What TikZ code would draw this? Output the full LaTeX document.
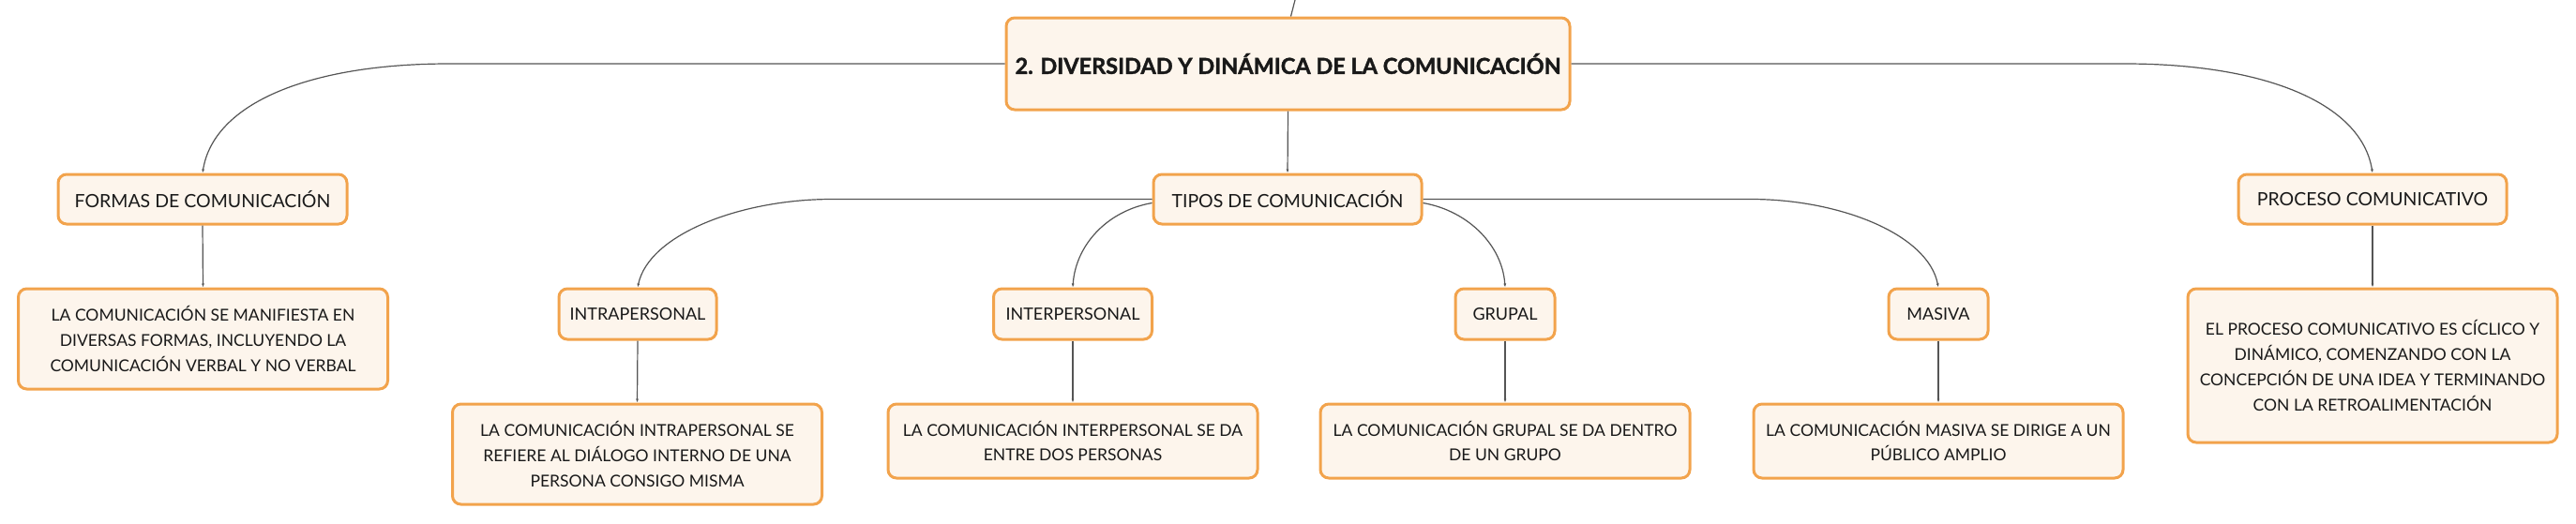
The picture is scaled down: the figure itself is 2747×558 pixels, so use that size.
\documentclass[tikz,border=0pt]{standalone}
\usepackage{fontspec}
\setmainfont{Lato}[BoldFeatures={FakeBold=1.6}]
\usetikzlibrary{arrows.meta,calc}
\definecolor{BoxLine}{HTML}{F2A34C}
\definecolor{BoxFill}{HTML}{FDF5EC}
\definecolor{BranchGray}{HTML}{555555}
\tikzset{%
	% Style of every box
	Box/.style={draw=BoxLine,fill=BoxFill,line width=3pt,rounded corners=9pt,
		inner sep=0,align=center,text=black!90},
	% Style of the central topic
	MainTopic/.style={Box,font=\fontsize{23.5}{28}\selectfont\bfseries},
	% Style of the first level topics
	Topic/.style={Box,font=\fontsize{19.5}{24}\selectfont,minimum height=53pt},
	% Style of the second level topics
	SubTopic/.style={Box,font=\fontsize{18}{22}\selectfont,minimum height=54pt},
	% Style of the explanation boxes
	Note/.style={Box,font=\fontsize{17.5}{26.7}\selectfont,minimum width=394pt},
	% Style of the branch
	Connection/.style={line width=1.2pt,draw=BranchGray,-{Latex[length=4pt,width=3pt]}},
}
\begin{document}
\begin{tikzpicture}[x=1pt,y=-1pt] % STYLES
\useasboundingbox (0,0) rectangle (2747,558);

%~~~~~~~~~~~~~~~~~~~~~~~~~~~~~~~~~~~~~~~~~~~~~~~~~~
% Set Nodes
%~~~~~~~~~~~~~~~~~~~~~~~~~~~~~~~~~~~~~~~~~~~~~~~~~~
\node[MainTopic,minimum width=601pt,minimum height=98pt] (Main) at (1373.5, 68) {2. DIVERSIDAD Y DINÁMICA DE LA COMUNICACIÓN};
\coordinate (Parent) at (1381, 0);

\node[Topic,minimum width=308pt] (Formas) at (216, 212.5) {FORMAS DE COMUNICACIÓN};
\node[Topic,minimum width=286pt] (Tipos) at (1373, 212.5) {TIPOS DE COMUNICACIÓN};
\node[Topic,minimum width=286pt] (Proceso) at (2530, 212.5) {PROCESO COMUNICATIVO};

\node[SubTopic,minimum width=168pt] (Intra) at (680, 335) {INTRAPERSONAL};
\node[SubTopic,minimum width=169pt] (Inter) at (1144, 335) {INTERPERSONAL};
\node[SubTopic,minimum width=106pt] (Grupal) at (1605, 335) {GRUPAL};
\node[SubTopic,minimum width=106pt] (Masiva) at (2067, 335) {MASIVA};

\node[Note,minimum height=107pt] (FormasNote) at (216.5, 361.5) {LA COMUNICACIÓN SE MANIFIESTA EN\\DIVERSAS FORMAS, INCLUYENDO LA\\COMUNICACIÓN VERBAL Y NO VERBAL};
\node[Note,minimum height=164pt] (ProcesoNote) at (2530, 390) {EL PROCESO COMUNICATIVO ES CÍCLICO Y\\DINÁMICO, COMENZANDO CON LA\\CONCEPCIÓN DE UNA IDEA Y TERMINANDO\\CON LA RETROALIMENTACIÓN};
\node[Note,minimum height=107pt] (IntraNote) at (679.5, 484.5) {LA COMUNICACIÓN INTRAPERSONAL SE\\REFIERE AL DIÁLOGO INTERNO DE UNA\\PERSONA CONSIGO MISMA};
\node[Note,minimum height=79pt] (InterNote) at (1144, 470.5) {LA COMUNICACIÓN INTERPERSONAL SE DA\\ENTRE DOS PERSONAS};
\node[Note,minimum height=79pt] (GrupalNote) at (1605, 470.5) {LA COMUNICACIÓN GRUPAL SE DA DENTRO\\DE UN GRUPO};
\node[Note,minimum height=79pt] (MasivaNote) at (2067, 470.5) {LA COMUNICACIÓN MASIVA SE DIRIGE A UN\\PÚBLICO AMPLIO};

%~~~~~~~~~~~~~~~~~~~~~~~~~~~~~~~~~~~~~~~~~~~~~~~~~~
% Set Branches
%~~~~~~~~~~~~~~~~~~~~~~~~~~~~~~~~~~~~~~~~~~~~~~~~~~
%Branch from Main to Parent
\draw [line width=1.2pt,draw=BranchGray] ($ (Main.north) + (3, 0) $) -- (Parent);

%Branch from Main to Formas
\draw [Connection] (Main.west) -- (479, 68) ..controls(330, 68) and (228, 110) .. (Formas.north);

%Branch from Main to Tipos
\draw [Connection] (Main.south) -- (Tipos.north);

%Branch from Main to Proceso
\draw [Connection] (Main.east) -- (2266, 68) ..controls(2415, 68) and (2518, 110) .. (Proceso.north);

%Branch from Tipos to Intra
\draw [Connection] (Tipos.west) -- (887, 212.5) ..controls(790, 212.5) and (692, 250) .. (Intra.north);

%Branch from Tipos to Inter
\draw [Connection] ($ (Tipos.west) + (0, 4) $) ..controls(1180, 225) and (1147, 262) .. (Inter.north);

%Branch from Tipos to Grupal
\draw [Connection] ($ (Tipos.east) + (0, 4) $) ..controls(1566, 225) and (1602, 262) .. (Grupal.north);

%Branch from Tipos to Masiva
\draw [Connection] (Tipos.east) -- (1867, 212.5) ..controls(1962, 212.5) and (2056, 250) .. (Masiva.north);

%Branches from Topics to Notes
\foreach \a/\b in {Formas/FormasNote,Proceso/ProcesoNote,Intra/IntraNote,Inter/InterNote,Grupal/GrupalNote,Masiva/MasivaNote}
	\draw [Connection] (\a.south) -- (\b.north);

\end{tikzpicture}
\end{document}
